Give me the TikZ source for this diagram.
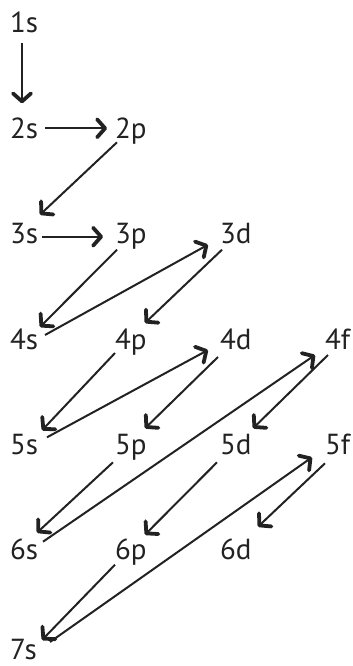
\documentclass[tikz,border=0pt]{standalone}
\usepackage{fontspec}
\setmainfont{PT Sans}
\usetikzlibrary{arrows.meta}
\definecolor{ink}{HTML}{222222}
\begin{document}
\begin{tikzpicture}[x=1pt,y=-1pt,
 lbl/.style={anchor=base west,inner sep=0pt,outer sep=0pt,font=\fontsize{29}{29}\selectfont,text=ink},
 arr/.style={draw=ink,line width=2pt,-{Straight Barb[length=8pt,width=18pt,line width=0pt 1.9,round]}}]
\useasboundingbox (0,0) rectangle (353,666);
% labels
\node[lbl] (s1) at (10,33) {1s};
\node[lbl] (s2) at (10,138.3) {2s};
\node[lbl] (p2) at (115,138.3) {2p};
\node[lbl] (s3) at (10,243.7) {3s};
\node[lbl] (p3) at (115,243.7) {3p};
\node[lbl] (d3) at (220,243.7) {3d};
\node[lbl] (s4) at (10,349) {4s};
\node[lbl] (p4) at (115,349) {4p};
\node[lbl] (d4) at (220,349) {4d};
\node[lbl] (f4) at (325,349) {4f};
\node[lbl] (s5) at (10,454.3) {5s};
\node[lbl] (p5) at (115,454.3) {5p};
\node[lbl] (d5) at (220,454.3) {5d};
\node[lbl] (f5) at (325,454.3) {5f};
\node[lbl] (s6) at (10,559.7) {6s};
\node[lbl] (p6) at (115,559.7) {6p};
\node[lbl] (d6) at (220,559.7) {6d};
\node[lbl] (s7) at (10,659) {7s};
% arrows
\draw[arr] ([shift={(12,10)}]s1.base west) -- ([shift={(12,-35)}]s2.base west);
\draw[arr] ([shift={(35,-10)}]s2.base west) -- ([shift={(-8,-10)}]p2.base west);
\draw[arr] ([shift={(2,4)}]p2.base west) -- ([shift={(30,-29)}]s3.base west);
\draw[arr] ([shift={(32,-7)}]s3.base west) -- ([shift={(-12,-7)}]p3.base west);
\draw[arr] ([shift={(2,6)}]p3.base west) -- ([shift={(30,-22)}]s4.base west);
\draw[arr] ([shift={(35,-14)}]s4.base west) -- ([shift={(-12,1)}]d3.base west);
\draw[arr] ([shift={(2,6)}]d3.base west) -- ([shift={(30,-26)}]p4.base west);
\draw[arr] ([shift={(0,4)}]p4.base west) -- ([shift={(32,-24)}]s5.base west);
\draw[arr] ([shift={(37,-17)}]s5.base west) -- ([shift={(-12,1)}]d4.base west);
\draw[arr] ([shift={(-2,8)}]d4.base west) -- ([shift={(30,-26)}]p5.base west);
\draw[arr] ([shift={(33,-18)}]s6.base west) -- ([shift={(-10,6)}]f4.base west);
\draw[arr] ([shift={(3,6)}]f4.base west) -- ([shift={(33,-26)}]d5.base west);
\draw[arr] ([shift={(-2,8)}]p5.base west) -- ([shift={(27,-27)}]s6.base west);
\draw[arr] ([shift={(-3,8)}]d5.base west) -- ([shift={(30,-25)}]p6.base west);
\draw[arr] ([shift={(40,-17)}]s7.base west) -- ([shift={(-13,3)}]f5.base west);
\draw[arr] ([shift={(0,9)}]f5.base west) -- ([shift={(38,-33)}]d6.base west);
\draw[arr] ([shift={(0,5)}]p6.base west) -- ([shift={(32,-19)}]s7.base west);
\end{tikzpicture}
\end{document}
